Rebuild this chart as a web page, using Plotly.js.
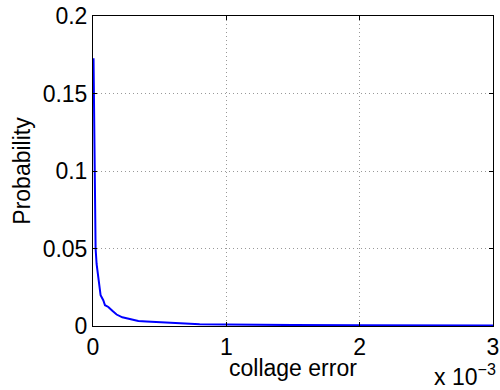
<!DOCTYPE html>
<html>
<head>
<meta charset="utf-8">
<script src="https://cdn.plot.ly/plotly-3.0.1.min.js"></script>
<style>
html,body{margin:0;padding:0;background:#fff;}
#chart{width:500px;height:390px;}
</style>
</head>
<body>
<div id="chart"></div>
<script>
// collage error values (real units) and probabilities
var collageError = [0.000004, 0.000007, 0.0000097, 0.000014, 0.0000195, 0.000027, 0.0000345, 0.000045,
  0.000057, 0.000077, 0.00009, 0.0001, 0.000115, 0.000145, 0.000177, 0.00022, 0.000265,
  0.00034, 0.0004, 0.000465, 0.00058, 0.000714, 0.0008, 0.001, 0.0012, 0.0015, 0.002, 0.0025, 0.003];
var probability = [0.1727, 0.14, 0.1, 0.072, 0.05, 0.04, 0.0338, 0.0274,
  0.0198, 0.0166, 0.0134, 0.013, 0.0123, 0.0098, 0.0074, 0.0056, 0.0048,
  0.0032, 0.0029, 0.0026, 0.0019, 0.0013, 0.0012, 0.0010, 0.0008, 0.0006, 0.0005, 0.0004, 0.0003];

var xTickVals = [0, 0.001, 0.002, 0.003];
var xTickText = ['0', '1', '2', '3'];
var yTickVals = [0, 0.05, 0.1, 0.15, 0.2];
var yTickText = ['0', '0.05', '0.1', '0.15', '0.2'];
var xTitle = 'collage error';
var yTitle = 'Probability';
var xExponent = 'x 10<sup>\u22123</sup>';

var fontFam = 'Liberation Sans, Arial, Helvetica, sans-serif';
var fs = 23;

var trace = {
  x: collageError,
  y: probability,
  type: 'scatter',
  mode: 'lines',
  line: {color: '#0000ff', width: 2},
  hoverinfo: 'skip'
};

var axisCommon = {
  showline: true, linecolor: '#000', linewidth: 1, mirror: 'ticks',
  ticks: 'inside', ticklen: 4, tickcolor: '#000',
  showgrid: true, gridcolor: '#999', gridwidth: 1, griddash: '1px,3px',
  zeroline: false,
  tickfont: {family: fontFam, size: fs, color: '#000'}
};

var layout = {
  width: 500, height: 390,
  margin: {l: 92.7, r: 7, t: 16, b: 64.3},
  paper_bgcolor: '#fff', plot_bgcolor: '#fff',
  showlegend: false,
  font: {family: fontFam, color: '#000'},
  xaxis: Object.assign({}, axisCommon, {
    range: [0, 0.003], tickmode: 'array', tickvals: xTickVals, ticktext: xTickText
  }),
  yaxis: Object.assign({}, axisCommon, {
    range: [0, 0.2], tickmode: 'array', tickvals: yTickVals, ticktext: yTickText,
    title: {text: yTitle, font: {family: fontFam, size: fs, color: '#000'}, standoff: 5}
  }),
  annotations: [{
    text: xTitle, xref: 'paper', yref: 'paper',
    x: 0.5, y: -0.137, xanchor: 'center', yanchor: 'middle', showarrow: false,
    font: {family: fontFam, size: fs, color: '#000'}
  }, {
    text: xExponent, xref: 'paper', yref: 'paper',
    x: 1.012, y: -0.214, xanchor: 'right', yanchor: 'bottom', showarrow: false,
    font: {family: fontFam, size: fs, color: '#000'}
  }]
};

Plotly.newPlot('chart', [trace], layout, {displayModeBar: false, staticPlot: true});
</script>
</body>
</html>
